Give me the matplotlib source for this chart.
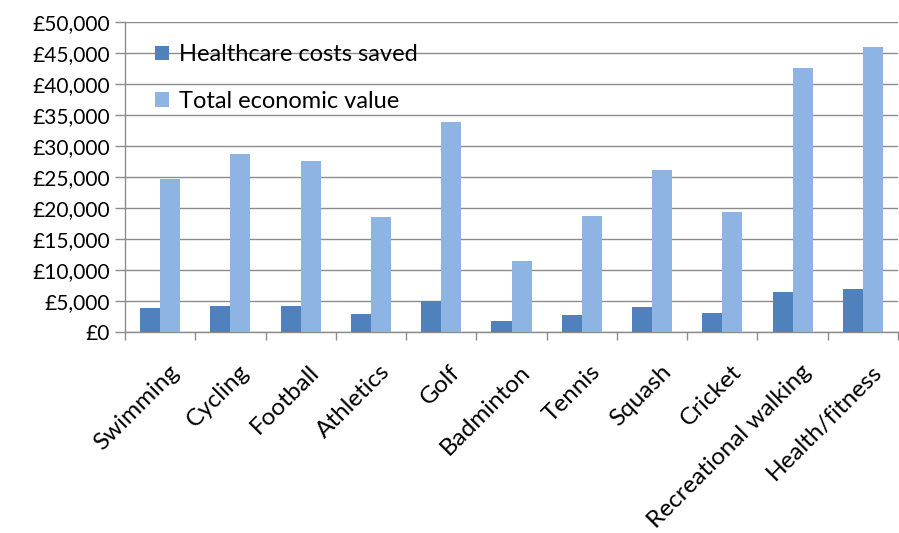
import matplotlib
matplotlib.use("Agg")
import matplotlib.pyplot as plt
import matplotlib.transforms as mtransforms
import numpy as np
from matplotlib.ticker import FuncFormatter, MultipleLocator

categories = ["Swimming", "Cycling", "Football", "Athletics", "Golf", "Badminton",
              "Tennis", "Squash", "Cricket", "Recreational walking", "Health/fitness"]
healthcare = [3800, 4250, 4250, 2850, 5000, 1720, 2800, 4030, 3010, 6500, 6930]
total_value = [24700, 28650, 27630, 18490, 33820, 11450, 18710, 26180, 19350, 42530, 46020]
series_names = ["Healthcare costs saved", "Total economic value"]

plt.rcParams['font.family'] = ['Lato', 'DejaVu Sans']

fig = plt.figure(figsize=(8.99, 5.33), dpi=100)
ax = fig.add_axes([125/899, 1-332/533, (898-125)/899, (332-22)/533])

x = np.arange(len(categories))
w = 1/3.5
ax.bar(x - w/2, healthcare, width=w, color="#4F81BD", label=series_names[0], zorder=3)
ax.bar(x + w/2, total_value, width=w, color="#8EB4E3", label=series_names[1], zorder=3)

ax.set_xlim(-0.5, len(categories) - 0.5)
ax.set_ylim(0, 50000)
ax.yaxis.set_major_locator(MultipleLocator(5000))
ax.yaxis.set_major_formatter(FuncFormatter(lambda v, p: "£{:,.0f}".format(v)))
ax.grid(axis='y', color="#8C8C8C", linewidth=1.0, zorder=0)

ax.set_xticks(x)
ax.set_xticklabels(categories, rotation=45, ha='right', rotation_mode='anchor', fontsize=17.5)
ax.tick_params(axis='x', length=0, pad=21)
offset = mtransforms.ScaledTranslation(8/100, 0, fig.dpi_scale_trans)
for lbl in ax.get_xticklabels():
    lbl.set_transform(lbl.get_transform() + offset)
ax.set_xticks(np.arange(len(categories) + 1) - 0.5, minor=True)
ax.tick_params(axis='x', which='minor', length=6, color="#8C8C8C", width=1)
ax.tick_params(axis='y', length=7, color="#8C8C8C", width=1, labelsize=15, pad=4)

for s in ['top', 'right']:
    ax.spines[s].set_visible(False)
for s in ['left', 'bottom']:
    ax.spines[s].set_color("#8C8C8C")
    ax.spines[s].set_linewidth(1)

leg = ax.legend(loc='upper left', bbox_to_anchor=(0.0388, 0.928), frameon=False, fontsize=17,
                borderaxespad=0, borderpad=0,
                handlelength=0.6, handleheight=0.6, handletextpad=0.4, labelspacing=1.07)

fig.savefig("out.png", dpi=100)
